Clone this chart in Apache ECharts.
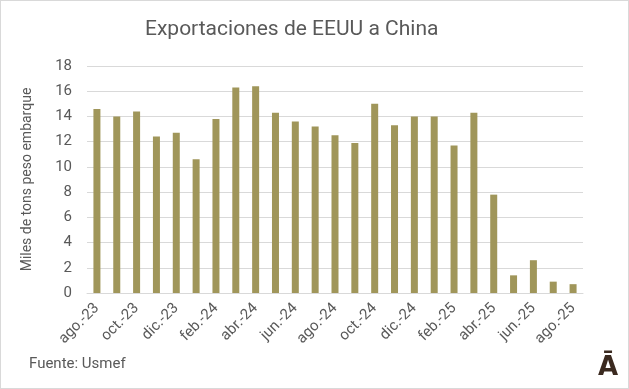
<!DOCTYPE html>
<html><head><meta charset="utf-8">
<script src="https://cdn.jsdelivr.net/npm/echarts@6/dist/echarts.min.js"></script>
<style>
html,body{margin:0;padding:0;background:#fff;}
#wrap{position:relative;width:627px;height:387px;border:1px solid #d9d9d9;}
#c{width:627px;height:387px;}
</style></head>
<body><div id="wrap"><div id="c"></div></div>
<script>
const categories = ["ago.-23","sep.-23","oct.-23","nov.-23","dic.-23","ene.-24","feb.-24","mar.-24","abr.-24","may.-24","jun.-24","jul.-24","ago.-24","sep.-24","oct.-24","nov.-24","dic.-24","ene.-25","feb.-25","mar.-25","abr.-25","may.-25","jun.-25","jul.-25","ago.-25"];
const values = [14.6,14.0,14.4,12.4,12.7,10.6,13.8,16.3,16.4,14.3,13.6,13.2,12.5,11.9,15.0,13.3,14.0,14.0,11.7,14.3,7.8,1.4,2.6,0.9,0.7];
const titleText = "Exportaciones de EEUU a China";
const yAxisTitle = "Miles de tons peso embarque";
const sourceText = "Fuente: Usmef";

const chart = echarts.init(document.getElementById('c'), null, {renderer:'canvas'});
const font = "Roboto, 'Liberation Sans', sans-serif";
chart.setOption({
  animation:false,
  textStyle:{fontFamily:font},
  title:{text:titleText,left:139,top:13,textStyle:{fontFamily:font,fontSize:21,fontWeight:'normal',color:'#595959'}},
  grid:{left:86,right:45,top:65,bottom:95,containLabel:false},
  xAxis:{type:'category',data:categories,
    axisLine:{lineStyle:{color:'#d9d9d9'}},axisTick:{show:false},
    axisLabel:{interval:1,rotate:45,color:'#595959',fontSize:15,fontFamily:font,margin:13}},
  yAxis:{type:'value',min:0,max:18,interval:2,
    name:yAxisTitle,nameLocation:'middle',nameGap:53,nameTextStyle:{color:'#595959',fontSize:14,fontFamily:font},
    axisLine:{show:false},axisTick:{show:false},
    axisLabel:{color:'#595959',fontSize:15,fontFamily:font,margin:15},
    splitLine:{lineStyle:{color:'#d9d9d9'}}},
  series:[{type:'bar',data:values,barWidth:7,itemStyle:{color:'#a0965a'}}],
  graphic:[
    {type:'text',left:28,top:356,style:{text:sourceText,fontSize:15,fill:'#595959',fontFamily:font}},
    {type:'text',left:597,top:354,style:{text:'Ā',fontSize:26,fontWeight:'bold',fill:'#3b2a20',fontFamily:"'DejaVu Sans', sans-serif"}}
  ]
});
</script></body></html>
